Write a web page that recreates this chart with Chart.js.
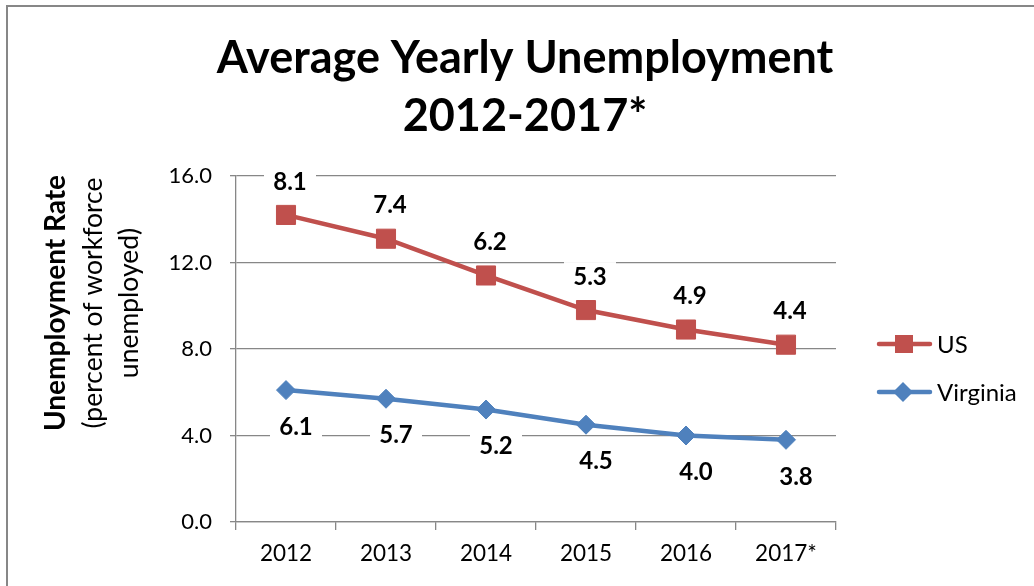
<!DOCTYPE html>
<html>
<head>
<meta charset="utf-8">
<script src="https://cdn.jsdelivr.net/npm/chart.js@4.4.1/dist/chart.umd.min.js"></script>
<style>
  html, body { margin: 0; padding: 0; background: #fff; }
  #wrap { position: relative; width: 1034px; height: 586px; overflow: hidden; }
  #frame { position: absolute; left: 6px; top: 5px; width: 1100px; height: 700px;
           border-top: 2px solid #878787; border-left: 2px solid #878787; box-sizing: border-box; pointer-events: none; }
  canvas { position: absolute; left: 0; top: 0; }
</style>
</head>
<body>
<div id="wrap">
  <canvas id="c" width="1034" height="586"></canvas>
  <div id="frame"></div>
</div>
<script>
const categories = ['2012', '2013', '2014', '2015', '2016', '2017*'];
const virginiaValues = [6.1, 5.7, 5.2, 4.5, 4.0, 3.8];
const usValues = [8.1, 7.4, 6.2, 5.3, 4.9, 4.4];
const yTicks = [0, 4, 8, 12, 16];
const titleLines = ['Average Yearly Unemployment', '2012-2017*'];
const yTitleLines = ['Unemployment Rate', '(percent of workforce', 'unemployed)'];

const RED = '#C0504D';
const BLUE = '#4F81BD';
const GRID = '#878787';
const FONT = 'Lato, "Open Sans", sans-serif';

const decorPlugin = {
  id: 'decor',
  afterDraw(chart) {
    const ctx = chart.ctx;
    ctx.save();
    // Title
    ctx.fillStyle = '#000';
    ctx.textAlign = 'center';
    ctx.textBaseline = 'alphabetic';
    ctx.font = 'bold 45px ' + FONT;
    ctx.fillText(titleLines[0], 525, 73);
    ctx.fillText(titleLines[1], 525, 131);

    // Y axis title (rotated)
    ctx.save();
    ctx.translate(0, 303);
    ctx.rotate(-Math.PI / 2);
    ctx.textBaseline = 'middle';
    ctx.textAlign = 'center';
    ctx.font = 'bold 28px ' + FONT;
    ctx.fillText(yTitleLines[0], 0, 56);
    ctx.font = '26.5px ' + FONT;
    ctx.fillText(yTitleLines[1], 0, 93);
    ctx.fillText(yTitleLines[2], 0, 129);
    ctx.restore();

    // Legend
    const items = [
      { label: chart.data.datasets[1].label, color: RED, style: 'rect', y: 344 },
      { label: chart.data.datasets[0].label, color: BLUE, style: 'rectRot', y: 392 }
    ];
    items.forEach(it => {
      ctx.strokeStyle = it.color;
      ctx.lineWidth = 4.5;
      ctx.lineCap = 'round';
      ctx.beginPath();
      ctx.moveTo(879, it.y);
      ctx.lineTo(930, it.y);
      ctx.stroke();
      ctx.fillStyle = it.color;
      ctx.beginPath();
      if (it.style === 'rect') {
        ctx.rect(895, it.y - 9, 18, 18);
      } else {
        ctx.moveTo(903 - 10, it.y); ctx.lineTo(903, it.y - 10);
        ctx.lineTo(903 + 10, it.y); ctx.lineTo(903, it.y + 10);
        ctx.closePath();
      }
      ctx.fill();
      ctx.fillStyle = '#000';
      ctx.textAlign = 'left';
      ctx.textBaseline = 'middle';
      ctx.font = '24px ' + FONT;
      ctx.fillText(it.label, 937, it.y + 1);
    });
    ctx.restore();
  },
  afterDatasetsDraw(chart) {
    const ctx = chart.ctx;
    ctx.save();
    ctx.font = 'bold 24px ' + FONT;
    ctx.textAlign = 'center';
    ctx.textBaseline = 'middle';
    const cfg = [
      { ds: 1, values: usValues, dx: 4, dy: -34 },
      { ds: 0, values: virginiaValues, dx: 10, dy: 36 }
    ];
    cfg.forEach(c => {
      const meta = chart.getDatasetMeta(c.ds);
      meta.data.forEach((pt, i) => {
        const x = pt.x + c.dx, y = pt.y + c.dy;
        ctx.fillStyle = '#fff';
        ctx.fillRect(x - 26, y - 14, 52, 28);
        ctx.fillStyle = '#000';
        ctx.fillText(c.values[i].toFixed(1), x, y + 1);
      });
    });
    ctx.restore();
  }
};

new Chart(document.getElementById('c'), {
  type: 'line',
  data: {
    labels: categories,
    datasets: [
      {
        label: 'Virginia', data: virginiaValues, borderColor: BLUE, backgroundColor: BLUE,
        borderWidth: 4.5, pointStyle: 'rectRot', pointRadius: 9.5, pointBorderWidth: 1,
        pointBackgroundColor: BLUE, pointBorderColor: BLUE, fill: false, tension: 0, stack: 's'
      },
      {
        label: 'US', data: usValues, borderColor: RED, backgroundColor: RED,
        borderWidth: 4.5, pointStyle: 'rect', pointRadius: 13.5, pointBorderWidth: 1,
        pointBackgroundColor: RED, pointBorderColor: RED, fill: false, tension: 0, stack: 's'
      }
    ]
  },
  options: {
    responsive: false,
    animation: false,
    devicePixelRatio: 1,
    layout: { padding: { top: 176, right: 198, bottom: 0, left: 0 } },
    plugins: {
      legend: { display: false },
      title: { display: false },
      tooltip: { enabled: false }
    },
    scales: {
      x: {
        offset: true,
        grid: { offset: true, drawOnChartArea: false, drawTicks: true, tickLength: 8, color: GRID, lineWidth: 1.3 },
        border: { display: true, color: GRID, width: 1.3 },
        ticks: { color: '#000', font: { family: FONT, size: 22.5 }, padding: 10, maxRotation: 0 },
        afterFit(s) { s.height = 64; }
      },
      y: {
        stacked: true,
        min: 0, max: 16,
        afterBuildTicks(s) { s.ticks = yTicks.map(v => ({ value: v })); },
        grid: { color: GRID, lineWidth: 1.3, tickLength: 6 },
        border: { display: true, color: GRID, width: 1.3 },
        ticks: { color: '#000', font: { family: FONT, size: 22 }, padding: 18,
                 callback: v => Number(v).toFixed(1) },
        afterFit(s) { s.width = 236; }
      }
    }
  },
  plugins: [decorPlugin]
});
</script>
</body>
</html>
